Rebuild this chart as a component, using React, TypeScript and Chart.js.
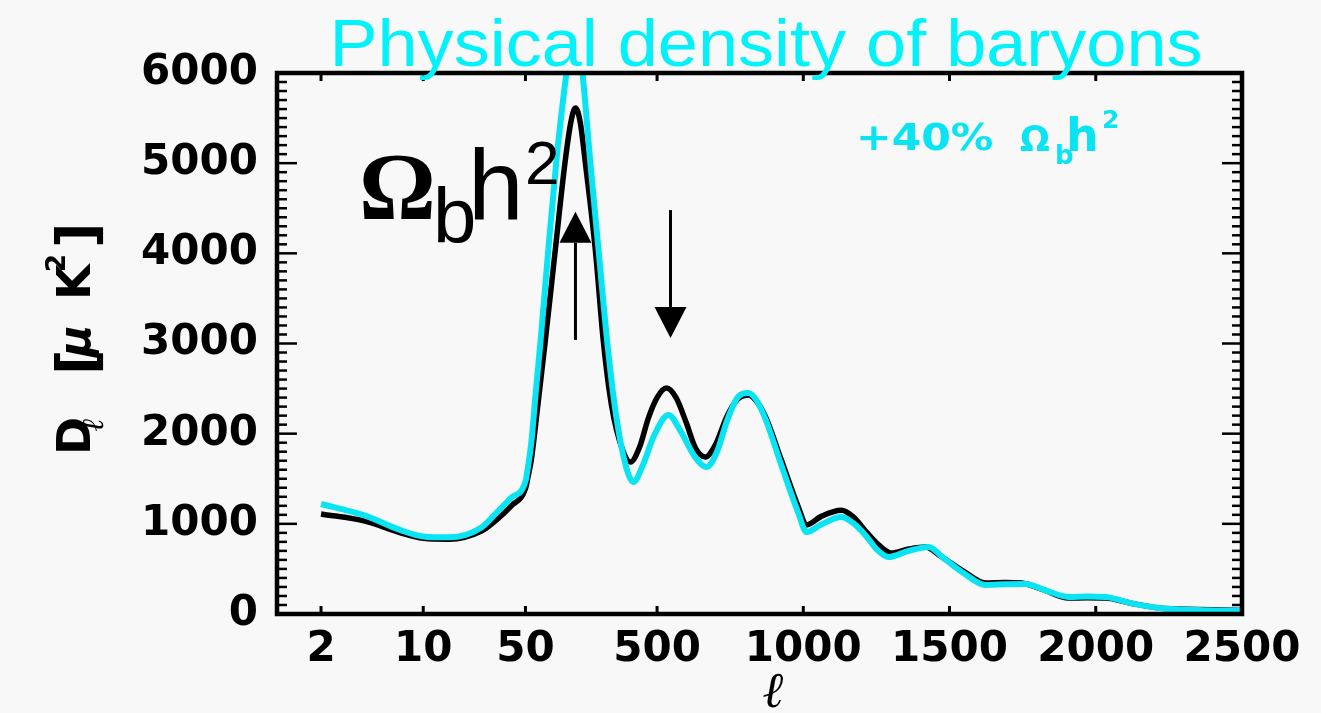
import React, { useEffect, useRef } from 'react';
import { Chart, registerables } from 'chart.js';

Chart.register(...registerables);

// ---------------- data ----------------
const ellFiducial = [2, 4, 7, 10, 15, 25, 32, 40, 50, 60, 70, 90, 117, 152, 185, 205, 221, 237, 255, 289, 317, 345, 380, 409, 440, 470, 500, 532, 565, 600, 630, 665, 700, 740, 775, 812, 840, 871, 925, 983, 1011, 1060, 1130, 1170, 1216, 1260, 1301, 1360, 1418, 1470, 1550, 1623, 1690, 1746, 1820, 1907, 1970, 2034, 2120, 2215, 2350, 2500];
const dlFiducial = [1110, 1030, 900, 840, 830, 920, 1050, 1200, 1390, 1540, 1710, 2250, 3005, 4037, 5000, 5450, 5612, 5460, 5000, 4037, 3005, 2300, 1840, 1686, 1850, 2170, 2400, 2506, 2400, 2120, 1850, 1741, 1880, 2200, 2380, 2429, 2360, 2185, 1708, 1187, 987, 1080, 1150, 1080, 909, 760, 676, 720, 743, 640, 470, 344, 350, 344, 270, 177, 180, 177, 120, 67, 50, 40];

const ellBaryon = [2, 4, 7, 10, 15, 25, 32, 40, 50, 60, 70, 85, 101, 128, 158, 190, 218, 245, 272, 300, 330, 360, 395, 419, 450, 490, 539, 580, 630, 669, 705, 740, 775, 812, 840, 871, 925, 983, 1011, 1060, 1130, 1170, 1216, 1250, 1291, 1360, 1428, 1480, 1550, 1623, 1690, 1760, 1830, 1907, 1970, 2034, 2120, 2215, 2350, 2500];
const dlBaryon = [1220, 1090, 930, 860, 850, 960, 1130, 1290, 1470, 1660, 1900, 2450, 3005, 4037, 5100, 6000, 6650, 6000, 5000, 4037, 3005, 2200, 1620, 1464, 1640, 1980, 2207, 2030, 1740, 1630, 1800, 2150, 2400, 2450, 2370, 2160, 1650, 1120, 909, 990, 1076, 1010, 860, 720, 632, 700, 743, 620, 450, 322, 330, 333, 260, 189, 195, 189, 120, 67, 45, 38];

const xTickEll = [2, 10, 50, 500, 1000, 1500, 2000, 2500];
const yTickValues = [0, 1000, 2000, 3000, 4000, 5000, 6000];
const yMinorStep = 100;

const titleText = 'Physical density of baryons';
const variantPrefix = '+40%';

// annotation arrows: multipole position, start value, end value
const arrowEll = [221, 546];
const arrowFromD = [3040, 4480];
const arrowToD = [4460, 3060];

// mixed axis: logarithmic up to ell = 50, linear above (500 per decade-width)
const LOG_LIMIT = 50;
const LINEAR_SPAN = 500;
function axisPos(l: number): number {
  if (l <= LOG_LIMIT) return Math.log10(l);
  return Math.log10(LOG_LIMIT) + (l - LOG_LIMIT) / LINEAR_SPAN;
}

// ---------------- styles ----------------
const BG = '#f8f8f8';
const CYAN_LINE = '#0ae4f2';
const CYAN_TEXT = '#00f2fa';
const TICK_FONT = { family: '"DejaVu Sans", sans-serif', weight: 'bold' as const, size: 42 };

const decorPlugin = {
  id: 'decor',
  beforeDraw(chart: any) {
    const { ctx, width, height } = chart;
    ctx.save();
    ctx.fillStyle = BG;
    ctx.fillRect(0, 0, width, height);
    ctx.restore();
  },
  afterDatasetsDraw(chart: any) {
    const { ctx, chartArea: a, scales } = chart;
    const xs = scales.x;
    const ys = scales.y;
    ctx.save();
    ctx.strokeStyle = '#000';
    const seg = (x1: number, y1: number, x2: number, y2: number) => {
      ctx.beginPath();
      ctx.moveTo(x1, y1);
      ctx.lineTo(x2, y2);
      ctx.stroke();
    };
    // y ticks (inward, both sides)
    const yMax = yTickValues[yTickValues.length - 1];
    for (let v = 0; v <= yMax; v += yMinorStep) {
      const y = ys.getPixelForValue(v);
      const major = yTickValues.includes(v);
      const len = major ? 20 : 10;
      ctx.lineWidth = 2.5;
      seg(a.left, y, a.left + len, y);
      seg(a.right, y, a.right - len, y);
    }
    // x ticks (inward, top and bottom)
    ctx.lineWidth = 3;
    for (const l of xTickEll) {
      const x = xs.getPixelForValue(axisPos(l));
      seg(x, a.bottom, x, a.bottom - 8);
      seg(x, a.top, x, a.top + 8);
    }
    // frame
    ctx.lineWidth = 4.5;
    ctx.strokeRect(a.left, a.top, a.right - a.left, a.bottom - a.top);
    ctx.restore();
  },
  afterDraw(chart: any) {
    const { ctx, scales } = chart;
    const xs = scales.x;
    const ys = scales.y;
    ctx.save();

    // arrows
    ctx.strokeStyle = '#000';
    ctx.fillStyle = '#000';
    for (let i = 0; i < arrowEll.length; i++) {
      const x = xs.getPixelForValue(axisPos(arrowEll[i]));
      const y0 = ys.getPixelForValue(arrowFromD[i]);
      const y1 = ys.getPixelForValue(arrowToD[i]);
      const dir = Math.sign(y1 - y0);
      const headLen = 31;
      const headHalf = 16;
      ctx.lineWidth = 3;
      ctx.beginPath();
      ctx.moveTo(x, y0);
      ctx.lineTo(x, y1 - dir * headLen);
      ctx.stroke();
      ctx.beginPath();
      ctx.moveTo(x, y1);
      ctx.lineTo(x - headHalf, y1 - dir * headLen);
      ctx.lineTo(x + headHalf, y1 - dir * headLen);
      ctx.closePath();
      ctx.fill();
    }

    // title
    ctx.fillStyle = CYAN_TEXT;
    ctx.font = '67px "Liberation Sans", Arial, sans-serif';
    ctx.textBaseline = 'alphabetic';
    ctx.textAlign = 'center';
    const tw = ctx.measureText(titleText).width;
    ctx.save();
    ctx.translate(766, 66);
    ctx.scale(873 / tw, 1);
    ctx.fillText(titleText, 0, 0);
    ctx.restore();

    // big Omega_b h^2 label
    ctx.textAlign = 'left';
    ctx.fillStyle = '#000';
    ctx.font = 'bold 96px "Liberation Serif", serif';
    ctx.fillText('\u03A9', 359, 219);
    ctx.font = '78px "Liberation Sans", Arial, sans-serif';
    ctx.fillText('b', 433, 243);
    ctx.font = '100px "Liberation Sans", Arial, sans-serif';
    ctx.fillText('h', 468, 220);
    ctx.font = '62px "Liberation Sans", Arial, sans-serif';
    ctx.fillText('2', 525, 184);

    // +40% Omega_b h^2 (cyan)
    ctx.fillStyle = CYAN_LINE;
    ctx.font = 'bold 37px "DejaVu Sans", sans-serif';
    ctx.save();
    ctx.translate(856, 150);
    ctx.scale(1.15, 1);
    ctx.fillText(variantPrefix, 0, 0);
    ctx.restore();
    ctx.font = 'bold 35px "DejaVu Sans", sans-serif';
    ctx.fillText('\u03A9', 1020, 151);
    ctx.font = 'bold 26px "DejaVu Sans", sans-serif';
    ctx.fillText('b', 1055, 164);
    ctx.font = 'bold 46px "DejaVu Sans", sans-serif';
    ctx.fillText('h', 1066, 151);
    ctx.font = 'bold 25px "DejaVu Sans", sans-serif';
    ctx.fillText('2', 1102, 128);

    // y-axis title (rotated)
    ctx.fillStyle = '#000';
    ctx.save();
    ctx.translate(90, 455);
    ctx.rotate(-Math.PI / 2);
    const piece = (s: string, x: number, y: number, font: string) => {
      ctx.font = font;
      ctx.fillText(s, x, y);
    };
    piece('D', 0, 0, 'bold 46px "DejaVu Sans", sans-serif');
    piece('\u2113', 24, 13, 'bold italic 30px "DejaVu Serif", serif');
    piece('[', 80, 6, 'bold 56px "DejaVu Sans", sans-serif');
    piece('\u03BC', 98, 0, 'bold italic 44px "DejaVu Sans", sans-serif');
    piece('K', 155, 0, 'bold 46px "DejaVu Sans", sans-serif');
    piece('2', 183, -25, 'bold 26px "DejaVu Sans", sans-serif');
    piece(']', 207, 6, 'bold 56px "DejaVu Sans", sans-serif');
    ctx.restore();

    // x-axis title
    ctx.textAlign = 'center';
    ctx.font = 'bold italic 50px "DejaVu Serif", serif';
    ctx.fillText('\u2113', 774, 707);

    ctx.restore();
  },
};

export default function App() {
  const canvasRef = useRef<HTMLCanvasElement | null>(null);

  useEffect(() => {
    if (!canvasRef.current) return;
    const fiducial = ellFiducial.map((l, i) => ({ x: axisPos(l), y: dlFiducial[i] }));
    const baryon = ellBaryon.map((l, i) => ({ x: axisPos(l), y: dlBaryon[i] }));

    const chart = new Chart(canvasRef.current, {
      type: 'line',
      data: {
        datasets: [
          {
            label: '+40% \u03A9b h\u00B2',
            data: baryon,
            borderColor: CYAN_LINE,
            borderWidth: 6,
            pointRadius: 0,
            fill: false,
            cubicInterpolationMode: 'monotone',
          },
          {
            label: 'fiducial',
            data: fiducial,
            borderColor: '#000',
            borderWidth: 5.5,
            pointRadius: 0,
            fill: false,
            cubicInterpolationMode: 'monotone',
          },
        ],
      },
      options: {
        responsive: false,
        animation: false,
        events: [],
        layout: { padding: { top: 73, right: 79, left: 0, bottom: 0 } },
        plugins: {
          legend: { display: false },
          tooltip: { enabled: false },
          title: { display: false },
        },
        scales: {
          x: {
            type: 'linear',
            min: 0,
            max: axisPos(xTickEll[xTickEll.length - 1]),
            grid: { display: false, drawTicks: false },
            border: { display: false },
            afterBuildTicks: (scale: any) => {
              scale.ticks = xTickEll.map((l) => ({ value: axisPos(l) }));
            },
            afterFit: (scale: any) => {
              scale.height = 99;
            },
            ticks: {
              autoSkip: false,
              maxRotation: 0,
              minRotation: 0,
              padding: 11,
              color: '#000',
              font: TICK_FONT,
              callback: (_v: any, index: number) => String(xTickEll[index]),
            },
          },
          y: {
            type: 'linear',
            min: yTickValues[0],
            max: yTickValues[yTickValues.length - 1],
            grid: { display: false, drawTicks: false },
            border: { display: false },
            afterFit: (scale: any) => {
              scale.width = 277;
            },
            ticks: {
              stepSize: 1000,
              padding: 19,
              color: '#000',
              font: TICK_FONT,
              callback: (v: any) => String(v),
            },
          },
        },
      },
      plugins: [decorPlugin],
    });
    return () => chart.destroy();
  }, []);

  return (
    <div style={{ position: 'fixed', left: 0, top: 0, width: 1321, height: 713, background: BG }}>
      <canvas ref={canvasRef} width={1321} height={713} style={{ display: 'block' }} />
    </div>
  );
}
